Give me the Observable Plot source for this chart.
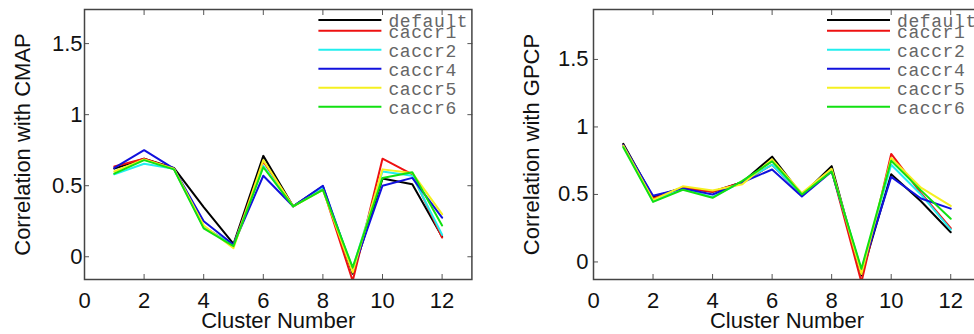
<!DOCTYPE html>
<html><head><meta charset="utf-8">
<script src="https://cdn.jsdelivr.net/npm/d3@7"></script>
<script src="https://cdn.jsdelivr.net/npm/@observablehq/plot@0.6"></script>
<style>
html,body{margin:0;padding:0;background:#fff;}
#wrap{width:974px;height:334px;overflow:hidden;display:flex;align-items:flex-start;}
#wrap > *{flex:none;}
</style></head><body><div id="wrap"></div>
<script>
const clusters = [1,2,3,4,5,6,7,8,9,10,11,12];
const seriesNames = ["default","caccr1","caccr2","caccr4","caccr5","caccr6"];
const seriesColors = ["#000000","#ee1111","#22eeee","#1111dd","#f5f020","#11e011"];
const xTicks = [0,2,4,6,8,10,12];
const yTicks = [0,0.5,1,1.5];

// Correlation with CMAP
const cmapDefault = [0.62, 0.69, 0.625, 0.35, 0.09, 0.71, 0.355, 0.495, -0.12, 0.55, 0.51, 0.14];
const cmapCaccr1  = [0.635, 0.69, 0.62, 0.21, 0.08, 0.67, 0.355, 0.48, -0.17, 0.69, 0.58, 0.135];
const cmapCaccr2  = [0.58, 0.655, 0.62, 0.21, 0.08, 0.64, 0.355, 0.49, -0.085, 0.60, 0.57, 0.155];
const cmapCaccr4  = [0.625, 0.75, 0.62, 0.25, 0.085, 0.57, 0.355, 0.50, -0.10, 0.50, 0.555, 0.275];
const cmapCaccr5  = [0.60, 0.685, 0.62, 0.22, 0.06, 0.68, 0.355, 0.47, -0.11, 0.615, 0.59, 0.30];
const cmapCaccr6  = [0.585, 0.68, 0.615, 0.20, 0.075, 0.63, 0.355, 0.47, -0.075, 0.555, 0.595, 0.22];

// Correlation with GPCP
const gpcpDefault = [0.875, 0.48, 0.55, 0.52, 0.59, 0.78, 0.495, 0.71, -0.10, 0.65, 0.45, 0.22];
const gpcpCaccr1  = [0.865, 0.47, 0.55, 0.52, 0.59, 0.72, 0.50, 0.68, -0.15, 0.80, 0.51, 0.25];
const gpcpCaccr2  = [0.86, 0.45, 0.54, 0.48, 0.595, 0.72, 0.50, 0.675, -0.06, 0.72, 0.50, 0.24];
const gpcpCaccr4  = [0.865, 0.49, 0.545, 0.50, 0.59, 0.685, 0.485, 0.67, -0.07, 0.63, 0.47, 0.395];
const gpcpCaccr5  = [0.86, 0.46, 0.56, 0.53, 0.575, 0.76, 0.51, 0.69, -0.09, 0.77, 0.55, 0.415];
const gpcpCaccr6  = [0.85, 0.445, 0.535, 0.475, 0.60, 0.745, 0.50, 0.67, -0.05, 0.75, 0.53, 0.32];

const cmapSeries = [cmapDefault, cmapCaccr1, cmapCaccr2, cmapCaccr4, cmapCaccr5, cmapCaccr6];
const gpcpSeries = [gpcpDefault, gpcpCaccr1, gpcpCaccr2, gpcpCaccr4, gpcpCaccr5, gpcpCaccr6];

function toRows(seriesList) {
  return seriesList.flatMap((vals, i) => vals.map((v, j) => ({cluster: clusters[j], value: v, series: seriesNames[i]})));
}

const FONT = "'Liberation Sans', Arial, Helvetica, sans-serif";
const MONO = "'Courier New', 'Liberation Mono', monospace";

function legendMark(index, scales, values, dims) {
  const g = d3.create("svg:g").attr("text-anchor", "start");
  const right = dims.width - dims.marginRight;
  seriesNames.forEach((name, i) => {
    const y = i === 0 ? 20 : 30.7 + (i - 1) * 19;
    g.append("line")
      .attr("x1", right - 153).attr("x2", right - 90)
      .attr("y1", y).attr("y2", y)
      .attr("stroke", seriesColors[i]).attr("stroke-width", 2);
    g.append("text")
      .attr("x", right - 83).attr("y", y + 7)
      .attr("text-anchor", "start")
      .attr("font-family", MONO).attr("font-size", 18)
      .attr("letter-spacing", 0.6)
      .attr("fill", "#666")
      .text(name);
  });
  return g.node();
}

function panel({seriesList, ylabel, yDomain, width, marginLeft, marginRight, yTickPadding, ylabelDx}) {
  return Plot.plot({
    width, height: 334,
    marginLeft, marginRight, marginTop: 9, marginBottom: 55,
    style: {fontFamily: FONT, fontSize: "22px", color: "#111", background: "#fff"},
    x: {domain: [0, 13]},
    y: {domain: yDomain},
    color: {type: "ordinal", domain: seriesNames, range: seriesColors},
    marks: [
      Plot.line(toRows(seriesList), {x: "cluster", y: "value", z: "series", stroke: "series", strokeWidth: 2, clip: true}),
      Plot.axisX({ticks: xTicks, anchor: "bottom", tickSize: 0, tickPadding: 13, fontSize: 22, label: null, tickFormat: d => String(d)}),
      Plot.axisX({ticks: xTicks, anchor: "bottom", tickSize: -5, tickFormat: () => "", label: null, stroke: "#555"}),
      Plot.axisX({ticks: xTicks, anchor: "top", tickSize: -5, tickFormat: () => "", label: null, stroke: "#555"}),
      Plot.axisY({ticks: yTicks, anchor: "left", tickSize: 0, tickPadding: yTickPadding, fontSize: 22, label: null, tickFormat: d => String(d)}),
      Plot.axisY({ticks: yTicks, anchor: "left", tickSize: -5, tickFormat: () => "", label: null, stroke: "#555"}),
      Plot.axisY({ticks: yTicks, anchor: "right", tickSize: -5, tickFormat: () => "", label: null, stroke: "#555"}),
      Plot.frame({stroke: "#444", strokeWidth: 1.5}),
      Plot.text([ylabel], {frameAnchor: "left", dx: ylabelDx, rotate: -90, text: d => d, fontSize: 22, textAnchor: "middle", lineAnchor: "middle", fill: "#111"}),
      Plot.text(["Cluster Number"], {frameAnchor: "bottom", dy: 41.5, text: d => d, fontSize: 22, textAnchor: "middle", lineAnchor: "middle", fill: "#111", style: "letter-spacing:1px"}),
      legendMark
    ]
  });
}

const wrap = document.getElementById("wrap");
wrap.append(panel({seriesList: cmapSeries, ylabel: "Correlation with CMAP", yDomain: [-0.16, 1.74], width: 487, marginLeft: 84, marginRight: 15.6, yTickPadding: 2, ylabelDx: -61.5}));
wrap.append(panel({seriesList: gpcpSeries, ylabel: "Correlation with GPCP", yDomain: [-0.13, 1.87], width: 500, marginLeft: 106, marginRight: 7, yTickPadding: 5, ylabelDx: -62}));
</script></body></html>
